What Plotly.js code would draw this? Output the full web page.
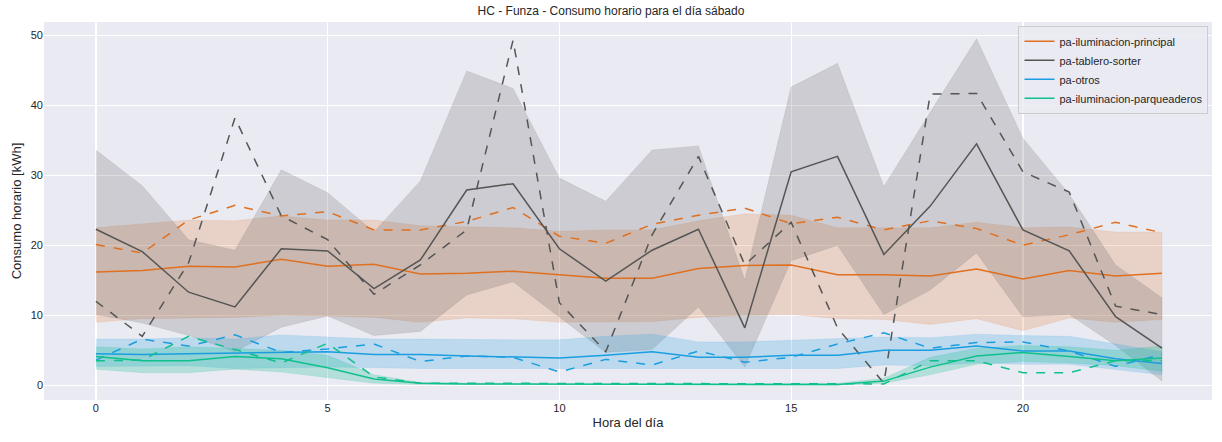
<!DOCTYPE html>
<html><head><meta charset="utf-8">
<script src="https://cdn.plot.ly/plotly-3.0.1.min.js"></script>
<style>body{margin:0;background:#fff}#chart{width:1222px;height:442px}</style>
</head><body><div id="chart"></div>
<script>
const hours = Array.from({length:24},(_,i)=>i);

// pa-iluminacion-principal
const ilumMean  = [16.2,16.4,17.0,16.9,18.0,17.0,17.3,15.9,16.0,16.3,15.8,15.3,15.3,16.7,17.1,17.2,15.8,15.8,15.6,16.6,15.2,16.4,15.6,16.0];
const ilumDash  = [20.1,18.9,23.6,25.7,24.2,24.8,22.2,22.2,23.4,25.4,21.3,20.3,23.0,24.3,25.3,23.1,24.0,22.2,23.5,22.4,20.0,21.5,23.3,21.8];
const ilumHi    = [22.5,23.0,23.6,23.5,24.2,23.6,23.6,22.8,22.7,22.5,22.0,22.2,22.2,23.5,24.5,24.3,22.5,22.5,22.5,23.3,22.5,22.6,21.9,21.9];
const ilumLo    = [9.0,9.5,9.6,9.7,10.0,9.9,9.7,9.0,9.6,9.5,9.0,9.0,9.1,9.7,10.0,10.1,9.5,9.4,8.7,9.5,7.8,9.6,9.0,9.4];

// pa-tablero-sorter
const sorterMean = [22.3,19.1,13.3,11.2,19.5,19.2,13.8,17.9,27.9,28.8,19.5,14.9,19.3,22.3,8.2,30.5,32.7,18.7,25.6,34.5,22.2,19.2,9.8,5.3];
const sorterDash = [12.0,7.0,17.5,38.2,24.2,20.8,13.0,17.2,22.2,49.3,11.8,4.8,21.5,32.7,17.2,23.3,8.2,0.3,41.6,41.7,30.5,27.6,11.3,10.1];
const sorterHi   = [33.6,28.5,20.8,19.3,30.8,27.5,21.9,29.2,44.9,42.4,29.6,26.3,33.6,34.2,15.0,42.6,46.0,28.4,39.0,49.5,35.3,27.3,17.2,12.5];
const sorterLo   = [10.1,8.9,7.1,4.8,8.3,9.9,7.1,7.7,12.9,14.8,9.8,4.7,5.1,11.2,2.6,17.8,20.0,10.1,13.6,18.9,9.8,10.1,5.7,0.6];

// pa-otros
const otrosMean = [4.5,4.4,4.5,4.6,4.8,4.8,4.4,4.4,4.2,4.0,3.9,4.3,4.8,4.0,4.0,4.3,4.3,5.0,5.0,5.6,4.9,4.9,3.8,3.1];
const otrosDash = [3.6,6.6,5.6,7.2,4.7,5.2,5.9,3.4,4.2,4.0,1.9,3.7,2.9,4.9,3.3,4.0,5.9,7.5,5.3,6.1,6.2,4.9,2.7,4.4];
const otrosHi   = [6.6,6.6,6.8,6.6,7.2,6.9,6.6,6.6,6.5,6.5,6.5,7.0,7.3,6.2,6.2,6.4,6.6,6.9,6.8,7.3,7.1,7.0,5.9,4.8];
const otrosLo   = [2.7,2.7,2.8,2.4,2.5,2.6,2.5,2.4,2.4,2.4,2.4,2.3,2.4,2.3,2.3,2.4,2.4,2.9,2.8,3.2,3.0,3.0,2.2,1.5];

// pa-iluminacion-parqueaderos
const parqMean = [4.1,3.5,3.5,4.1,3.8,2.5,0.9,0.3,0.2,0.2,0.1,0.1,0.1,0.1,0.1,0.1,0.1,0.6,2.6,4.2,4.7,4.1,3.5,3.9];
const parqDash = [3.5,3.6,7.0,5.1,3.2,6.0,1.2,0.3,0.3,0.3,0.2,0.3,0.3,0.2,0.2,0.2,0.2,0.2,3.5,3.5,1.8,1.8,3.5,3.5];
const parqHi   = [5.5,5.2,5.5,5.3,5.0,4.3,1.5,0.4,0.3,0.3,0.2,0.2,0.2,0.2,0.2,0.2,0.3,1.0,4.0,5.3,5.7,5.5,5.0,5.6];
const parqLo   = [2.3,1.8,1.8,2.3,1.9,1.1,0.3,0.1,0.1,0.1,0.0,0.0,0.0,0.0,0.0,0.0,0.0,0.3,1.5,3.0,3.4,3.2,2.8,2.0];

const series = [
  {name:'pa-iluminacion-principal', color:'#e0701f', fill:'rgba(224,112,31,0.2)', mean:ilumMean, dash:ilumDash, hi:ilumHi, lo:ilumLo},
  {name:'pa-tablero-sorter', color:'#555555', fill:'rgba(85,85,85,0.2)', mean:sorterMean, dash:sorterDash, hi:sorterHi, lo:sorterLo},
  {name:'pa-otros', color:'#1b9ee0', fill:'rgba(27,158,224,0.22)', mean:otrosMean, dash:otrosDash, hi:otrosHi, lo:otrosLo},
  {name:'pa-iluminacion-parqueaderos', color:'#10c08c', fill:'rgba(16,192,140,0.25)', mean:parqMean, dash:parqDash, hi:parqHi, lo:parqLo},
];

const traces = [];
series.forEach(s=>{
  traces.push({x:hours.concat(hours.slice().reverse()), y:s.hi.concat(s.lo.slice().reverse()),
    fill:'toself', fillcolor:s.fill, line:{color:s.fill, width:0.5}, mode:'lines', showlegend:false, hoverinfo:'skip'});
});
series.forEach(s=>{
  traces.push({x:hours, y:s.mean, mode:'lines', name:s.name, line:{color:s.color, width:1.5}});
  traces.push({x:hours, y:s.dash, mode:'lines', showlegend:false, line:{color:s.color, width:1.5, dash:'dash'}});
});

Plotly.newPlot('chart', traces, {
  width:1222, height:442,
  margin:{l:44, r:10, t:22, b:42},
  paper_bgcolor:'#fff', plot_bgcolor:'#eaeaf2',
  font:{family:'Liberation Sans, Arial, sans-serif', size:11, color:'#262626'},
  title:{text:'HC - Funza - Consumo horario para el día sábado', x:0.5, y:0.985, yanchor:'top', font:{size:12}},
  xaxis:{title:{text:'Hora del día', standoff:4}, range:[-1.12,24.08], tickvals:[0,5,10,15,20], gridcolor:'#fff', gridwidth:1.2, zeroline:false, showline:false, ticks:''},
  yaxis:{title:{text:'Consumo horario [kWh]', standoff:6}, range:[-2.1,51.9], tickvals:[0,10,20,30,40,50], gridcolor:'#fff', gridwidth:1.2, zeroline:false, showline:false, ticks:''},
  legend:{x:0.997, y:0.99, xanchor:'right', yanchor:'top', bgcolor:'rgba(234,234,242,0.8)', bordercolor:'#ccc', borderwidth:1, font:{size:11}, tracegroupgap:0},
  showlegend:true
}, {staticPlot:true});
</script></body></html>
